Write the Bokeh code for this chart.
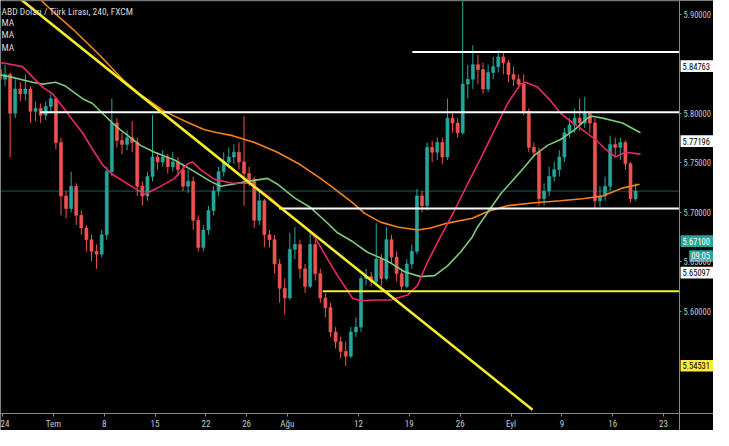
from bokeh.plotting import figure
from bokeh.models import Range1d, FixedTicker, NumeralTickFormatter, Label, ColumnDataSource
from bokeh.core.properties import value
from bokeh.embed import file_html
from bokeh.resources import INLINE

FONT = "Liberation Sans Narrow, Roboto Condensed, Arial Narrow, sans-serif"

# ---- time axis (trading-day index, Mon 24 Jun 2019 = 0) ----
tick_days = [0, 5, 10, 15, 20, 24, 28, 35, 40, 45, 50, 55, 60, 65]
tick_labels = ["24", "Tem", "8", "15", "22", "26", "Ağu", "12", "19", "26", "Eyl", "9", "16", "23"]

# ---- USD/TRY bars (two bars per trading day) ----
bar_first_day = -0.75
bar_step_days = 0.5
first_open = 5.8098
close = [5.8441, 5.8343, 5.8392, 5.8000, 5.8245, 5.8196, 5.8245, 5.8019, 5.8049, 5.7980,
         5.8068, 5.8147, 5.7705, 5.7166, 5.7039, 5.7264, 5.6970, 5.6843, 5.6725, 5.6607,
         5.6578, 5.6774, 5.7411, 5.7901, 5.7725, 5.7686, 5.7754, 5.7705, 5.7264, 5.7166,
         5.7362, 5.7558, 5.7509, 5.7558, 5.7460, 5.7509, 5.7431, 5.7264, 5.7313, 5.6921,
         5.6647, 5.6823, 5.7019, 5.7215, 5.7411, 5.7509, 5.7558, 5.7607, 5.7509, 5.7392,
         5.7333, 5.6921, 5.7117, 5.6774, 5.6725, 5.6480, 5.6235, 5.6137, 5.6627, 5.6676,
         5.6431, 5.6254, 5.6676, 5.6382, 5.6137, 5.6039, 5.5794, 5.5696, 5.5598, 5.5549,
         5.5794, 5.5843, 5.6333, 5.6352, 5.6303, 5.6529, 5.6333, 5.6725, 5.6549, 5.6382,
         5.6254, 5.6480, 5.6607, 5.7166, 5.7068, 5.7656, 5.7607, 5.7705, 5.7558, 5.7951,
         5.7901, 5.7803, 5.8294, 5.8343, 5.8490, 5.8441, 5.8245, 5.8411, 5.8470, 5.8568,
         5.8509, 5.8392, 5.8343, 5.8294, 5.8019, 5.7656, 5.7607, 5.7137, 5.7215, 5.7362,
         5.7431, 5.7558, 5.7803, 5.7882, 5.7951, 5.7901, 5.8000, 5.7901, 5.7117, 5.7166,
         5.7264, 5.7686, 5.7656, 5.7705, 5.7490, 5.7137, 5.7215]
high = [5.8509, 5.8470, 5.8490, 5.8411, 5.8343, 5.8313, 5.8392, 5.8274, 5.8117, 5.8098,
        5.8117, 5.8196, 5.8166, 5.7754, 5.7215, 5.7411, 5.7294, 5.7019, 5.6872, 5.6774,
        5.6676, 5.6823, 5.7460, 5.8147, 5.7951, 5.7803, 5.7823, 5.7921, 5.7754, 5.7313,
        5.7411, 5.7980, 5.7607, 5.7627, 5.7588, 5.7607, 5.7558, 5.7490, 5.7431, 5.7362,
        5.6970, 5.6872, 5.7068, 5.7264, 5.7460, 5.7607, 5.7656, 5.7686, 5.7705, 5.7970,
        5.7460, 5.7362, 5.7235, 5.7137, 5.6823, 5.6774, 5.6529, 5.6333, 5.6794, 5.6852,
        5.6725, 5.6480, 5.6823, 5.6725, 5.6431, 5.6186, 5.6088, 5.5843, 5.5745, 5.5696,
        5.5843, 5.5941, 5.6362, 5.6431, 5.6401, 5.6892, 5.6578, 5.6852, 5.6774, 5.6607,
        5.6431, 5.6529, 5.6676, 5.7235, 5.7215, 5.7705, 5.7725, 5.7754, 5.7754, 5.8147,
        5.8019, 5.7951, 5.9156, 5.8490, 5.8686, 5.8588, 5.8509, 5.8490, 5.8568, 5.8637,
        5.8617, 5.8539, 5.8470, 5.8392, 5.8392, 5.8049, 5.7705, 5.7656, 5.7294, 5.7460,
        5.7509, 5.7627, 5.7852, 5.7951, 5.8049, 5.8147, 5.8166, 5.8019, 5.7951, 5.7264,
        5.7362, 5.7774, 5.7754, 5.7754, 5.7725, 5.7509, 5.7294]
low = [5.7901, 5.8245, 5.8274, 5.7558, 5.7951, 5.8117, 5.8127, 5.7901, 5.7921, 5.7901,
       5.7931, 5.8000, 5.7637, 5.6970, 5.6941, 5.7000, 5.6872, 5.6774, 5.6607, 5.6509,
       5.6431, 5.6549, 5.6725, 5.7362, 5.7656, 5.7588, 5.7627, 5.7607, 5.7166, 5.7068,
       5.7117, 5.7313, 5.7431, 5.7460, 5.7392, 5.7411, 5.7362, 5.7215, 5.7196, 5.6823,
       5.6607, 5.6607, 5.6774, 5.6970, 5.7166, 5.7362, 5.7460, 5.7490, 5.7431, 5.7068,
       5.7264, 5.6843, 5.6872, 5.6647, 5.6647, 5.6382, 5.6088, 5.5970, 5.6117, 5.6529,
       5.6333, 5.6186, 5.6235, 5.6313, 5.6088, 5.5941, 5.5745, 5.5627, 5.5529, 5.5451,
       5.5529, 5.5745, 5.5794, 5.6264, 5.6254, 5.6284, 5.6254, 5.6313, 5.6480, 5.6303,
       5.6205, 5.6235, 5.6431, 5.6578, 5.7000, 5.7019, 5.7509, 5.7529, 5.7490, 5.7529,
       5.7803, 5.7754, 5.7784, 5.8147, 5.8245, 5.8294, 5.8196, 5.8215, 5.8343, 5.8411,
       5.8392, 5.8313, 5.8274, 5.8245, 5.7980, 5.7607, 5.7558, 5.7068, 5.7068, 5.7166,
       5.7313, 5.7362, 5.7509, 5.7754, 5.7803, 5.7823, 5.7852, 5.7803, 5.7039, 5.7058,
       5.7117, 5.7215, 5.7558, 5.7529, 5.7431, 5.7098, 5.7117]

# ---- moving averages ----
ma_fast_days = [-0.98, 0, 1.97, 3.93, 4.92, 5.90, 6.88, 7.87, 8.85, 9.83,
                10.82, 12.98, 13.96, 15.24, 16.91, 18.19, 18.68, 19.47, 20.85, 22.62,
                24.39, 26.35, 27.73, 29.30, 30.68, 31.96, 32.94, 34.41, 35.20, 36.58,
                38.15, 39.82, 40.81, 41.79, 43.07, 44.44, 45.72, 47.00, 48.38, 49.66,
                50.93, 51.43, 52.61, 53.88, 54.87, 55.85, 57.03, 58.31, 59.29, 60.28,
                61.26, 62.73]
ma_fast = [5.8490, 5.8509, 5.8470, 5.8264, 5.8196, 5.8068, 5.7931, 5.7803, 5.7637, 5.7480,
           5.7382, 5.7245, 5.7186, 5.7245, 5.7343, 5.7490, 5.7509, 5.7431, 5.7333, 5.7294,
           5.7294, 5.7147, 5.7019, 5.6892, 5.6755, 5.6529, 5.6362, 5.6137, 5.6108, 5.6117,
           5.6117, 5.6166, 5.6264, 5.6500, 5.6755, 5.7019, 5.7284, 5.7539, 5.7833, 5.8098,
           5.8294, 5.8313, 5.8264, 5.8127, 5.8000, 5.7921, 5.7833, 5.7735, 5.7637, 5.7558,
           5.7607, 5.7588]
ma_mid_days = [-0.49, 0.98, 2.95, 3.93, 5.21, 6.19, 7.87, 8.85, 9.83, 10.82,
               11.60, 13.57, 14.95, 16.91, 18.88, 20.45, 21.44, 22.62, 24.09, 26.06,
               27.04, 28.71, 30.28, 31.66, 32.94, 34.41, 35.89, 37.86, 39.53, 41.10,
               42.48, 43.76, 45.03, 46.21, 46.71, 48.97, 50.93, 52.31, 53.59, 54.87,
               56.24, 57.52, 58.01, 59.00, 60.96, 62.73]
ma_mid = [5.8392, 5.8362, 5.8313, 5.8294, 5.8313, 5.8274, 5.8147, 5.8098, 5.8000, 5.7901,
          5.7833, 5.7676, 5.7607, 5.7529, 5.7411, 5.7313, 5.7264, 5.7284, 5.7313, 5.7343,
          5.7284, 5.7147, 5.7049, 5.6921, 5.6794, 5.6706, 5.6598, 5.6509, 5.6401, 5.6352,
          5.6362, 5.6461, 5.6598, 5.6755, 5.6853, 5.7186, 5.7411, 5.7578, 5.7676, 5.7735,
          5.7833, 5.7951, 5.7970, 5.7951, 5.7901, 5.7803]
ma_slow_days = [3.24, 4.92, 6.88, 9.54, 11.80, 13.47, 15.93, 17.90, 19.86, 21.14,
                22.62, 24.78, 27.04, 29.30, 31.27, 32.94, 34.41, 35.60, 37.17, 38.84,
                40.81, 42.09, 43.76, 46.21, 47.69, 49.66, 52.31, 54.87, 57.03, 59.00,
                60.96, 62.64]
ma_slow = [5.9196, 5.9029, 5.8852, 5.8588, 5.8343, 5.8196, 5.8019, 5.7921, 5.7833, 5.7803,
           5.7774, 5.7705, 5.7607, 5.7480, 5.7343, 5.7215, 5.7098, 5.6990, 5.6902, 5.6853,
           5.6823, 5.6843, 5.6892, 5.6941, 5.7010, 5.7068, 5.7098, 5.7117, 5.7137, 5.7166,
           5.7245, 5.7284]

# ---- drawn levels / trend line ----
white_levels = [5.8617, 5.8010, 5.7039]
white_level_start_days = [40.3, 3.7, 27.2]
yellow_level = 5.6205
yellow_level_start_day = 31.5
trend_days = [1.47, 52.11]
trend_prices = [5.9176, 5.5010]

# ---- price-scale tags ----
tag_texts = ["5.84763", "5.77196", "5.67100", "09:05", "5.65097", "5.54531"]
tag_prices = [5.84763, 5.77196, 5.67100, 5.6560, 5.6392, 5.54531]
tag_fill = ["#ffffff", "#ffffff", "#26a69a", "#26a69a", "#ffffff", "#ffeb3b"]
tag_text_color = ["#000000", "#000000", "#ffffff", "#ffffff", "#000000", "#000000"]
tag_start_offset = [0.1, 0.1, 0.1, 0.95, 0.1, 0.1]   # days right of the price scale line

price_ticks = [5.60, 5.65, 5.70, 5.75, 5.80, 5.90]

# view window and where the two scales sit inside it
X_START, X_END = -0.197, 69.91
Y_START, Y_END = 5.48000, 5.91373
PRICE_SCALE_DAY = 66.57      # vertical price-scale line
TIME_SCALE_PRICE = 5.49706   # horizontal time-scale line

UP, DOWN = "#26a69a", "#ef5350"

p = figure(width=713, height=430, x_range=Range1d(X_START, X_END), y_range=Range1d(Y_START, Y_END),
           output_backend="svg", toolbar_location=None, y_axis_location="right",
           background_fill_color="#000000", border_fill_color="#000000", min_border=0)
p.grid.visible = False
p.outline_line_color = None

# candles
opens = [first_open] + close[:-1]
days = [bar_first_day + bar_step_days * i for i in range(len(close))]
colors = [UP if c >= o else DOWN for o, c in zip(opens, close)]
src = ColumnDataSource(dict(
    x=days, o=opens, c=close, h=high, l=low,
    top=[max(o, c) for o, c in zip(opens, close)],
    bot=[min(o, c) for o, c in zip(opens, close)],
    col=colors))
p.segment(x0="x", y0="h", x1="x", y1="l", color="col", line_width=1, source=src)
p.vbar(x="x", width=0.3, top="top", bottom="bot", fill_color="col", line_color="col", line_width=0.6, source=src)

# moving averages
p.line(ma_slow_days, ma_slow, line_color="#f58220", line_width=1.6)
p.line(ma_mid_days, ma_mid, line_color="#7fc97f", line_width=1.6)
p.line(ma_fast_days, ma_fast, line_color="#e9266a", line_width=1.6)

# current price line
p.segment(x0=[X_START], y0=[close[-1]], x1=[PRICE_SCALE_DAY], y1=[close[-1]],
          line_color=UP, line_alpha=0.55, line_width=1)

# horizontal levels
p.segment(x0=white_level_start_days, y0=white_levels, x1=[PRICE_SCALE_DAY] * len(white_levels),
          y1=white_levels, line_color="#ffffff", line_width=2)
p.segment(x0=[yellow_level_start_day], y0=[yellow_level], x1=[PRICE_SCALE_DAY], y1=[yellow_level],
          line_color="#f2ee2c", line_width=2)
p.line(trend_days, trend_prices, line_color="#f2ee2c", line_width=2.6)

# top border line of the chart pane
p.segment(x0=[X_START], y0=[Y_END], x1=[PRICE_SCALE_DAY], y1=[Y_END], line_color="#6a6a6a", line_width=1.5)

# axes, pinned at the chart's own scale positions
p.yaxis.fixed_location = PRICE_SCALE_DAY
p.xaxis.fixed_location = TIME_SCALE_PRICE
for ax in (p.xaxis[0], p.yaxis[0]):
    ax.axis_line_color = "#8a8a8a"
    ax.major_tick_line_color = "#8a8a8a"
    ax.minor_tick_line_color = None
    ax.major_tick_out = 3
    ax.major_tick_in = 0
    ax.major_label_text_color = "#c8c8c8"
    ax.major_label_text_font = FONT
    ax.major_label_standoff = 2
p.xaxis.major_label_text_font_size = "9px"
p.yaxis.major_label_text_font_size = "8.5px"
p.yaxis.major_tick_out = 2

p.xaxis.ticker = FixedTicker(ticks=tick_days)
p.xaxis.major_label_overrides = {d: t for d, t in zip(tick_days, tick_labels)}
p.yaxis.ticker = FixedTicker(ticks=price_ticks)
p.yaxis.formatter = NumeralTickFormatter(format="0.00000")

# price tags on the price scale
tag_src = ColumnDataSource(dict(
    x0=[PRICE_SCALE_DAY + s for s in tag_start_offset],
    xt=[PRICE_SCALE_DAY + s + 0.2 for s in tag_start_offset],
    y=tag_prices, text=tag_texts, fill=tag_fill, tc=tag_text_color))
p.hbar(y="y", left="x0", right=X_END + 1, height=0.0118, fill_color="fill", line_color=None, source=tag_src)
p.text(x="xt", y="y", text="text", text_color="tc", text_font=value(FONT), text_font_size=value("8.5px"),
       text_baseline="middle", text_align="left", source=tag_src)

# legend texts
legend_texts = ["ABD Doları / Türk Lirası, 240, FXCM", "MA", "MA", "MA"]
legend_prices = [5.9029, 5.8911, 5.8794, 5.8666]
for t, y in zip(legend_texts, legend_prices):
    p.add_layout(Label(x=1, x_units="screen", y=y, text=t, text_baseline="middle",
                       text_font=FONT, text_font_size="9.5px", text_color="#d8d8d8"))

open("out.html", "w").write(file_html(p, INLINE))
